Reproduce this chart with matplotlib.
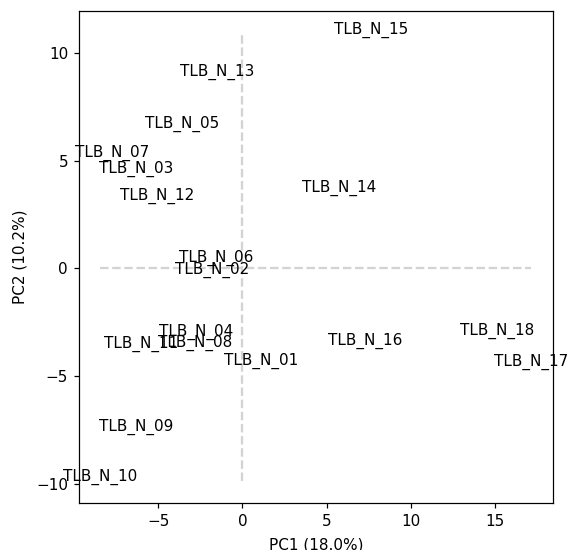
import matplotlib
matplotlib.use("Agg")
import matplotlib.pyplot as plt

samples = ["TLB_N_01", "TLB_N_02", "TLB_N_03", "TLB_N_04", "TLB_N_05", "TLB_N_06",
           "TLB_N_07", "TLB_N_08", "TLB_N_09", "TLB_N_10", "TLB_N_11", "TLB_N_12",
           "TLB_N_13", "TLB_N_14", "TLB_N_15", "TLB_N_16", "TLB_N_17", "TLB_N_18"]
pc1 = [1.09, -1.79, -6.31, -2.74, -3.60, -1.58,
       -7.77, -2.80, -6.31, -8.45, -6.00, -5.06,
       -1.49, 5.77, 7.68, 7.32, 17.17, 15.12]
pc2 = [-4.49, -0.23, 4.46, -3.15, 6.53, 0.32,
       5.19, -3.66, -7.55, -9.86, -3.70, 3.19,
       8.98, 3.56, 10.93, -3.56, -4.54, -3.06]

fig, ax = plt.subplots(figsize=(571 / 110, 550 / 110), dpi=110)
fig.subplots_adjust(left=0.138, right=0.968, top=0.98, bottom=0.0855)

for name, x, y in zip(samples, pc1, pc2):
    ax.text(x, y, name, ha='center')

# guide lines through the origin, spanning the data
ax.hlines(0, min(pc1), max(pc1), colors='lightgray', linestyles='dashed', lw=1.5)
ax.vlines(0, min(pc2), max(pc2), colors='lightgray', linestyles='dashed', lw=1.5)

ax.set_xlabel('PC1 (18.0%)', labelpad=5.5)
ax.set_ylabel('PC2 (10.2%)', labelpad=5.5)

fig.savefig('out.png', dpi=110)
